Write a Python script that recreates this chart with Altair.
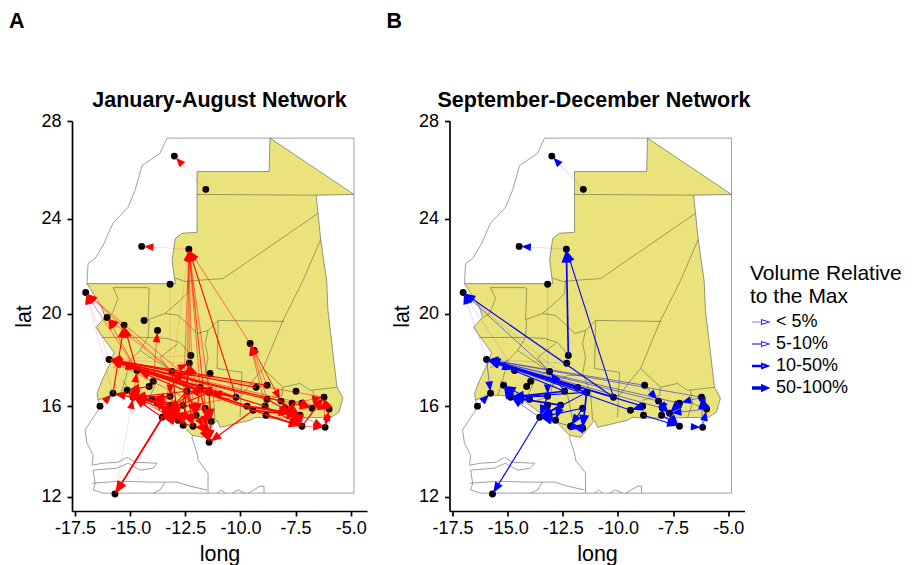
import math
import altair as alt
import pandas as pd

FONT = "Liberation Sans"
def merc(lat):
    return math.log(math.tan(math.pi / 4 + math.radians(lat) / 2)) * 180 / math.pi

node_lon = [-13.00,-11.57,-14.48,-12.34,-13.19,-17.02,-16.05,-15.28,-14.37,-13.76,-15.96,-12.25,-12.32,-14.69,-13.10,-11.38,-9.56,-9.38,-13.96,-14.14,-15.14,-9.29,-8.79,-7.48,-12.42,-11.83,-11.42,-10.20,-15.78,-16.37,-14.87,-14.01,-13.19,-8.79,-8.16,-7.66,-7.21,-6.21,-5.98,-6.16,-7.21,-8.84,-8.88,-9.70,-9.43,-11.33,-11.42,-13.55,-12.83,-12.60,-12.15,-11.60,-15.69,-12.60,-11.60,-13.19,-13.78,-7.98,-7.66,-7.30,-6.75,-13.33,-12.01,-15.19,-8.02]
node_lat = [26.58,25.22,22.85,22.73,21.25,20.90,19.84,19.51,19.71,19.28,18.03,18.20,17.87,17.55,17.51,17.42,18.72,18.42,17.08,16.86,16.69,16.82,16.91,16.65,16.65,16.82,16.60,16.39,16.56,16.00,16.39,16.30,16.43,16.30,16.22,16.13,16.13,16.39,15.87,15.07,15.12,15.60,16.00,16.00,15.82,15.34,14.41,15.51,15.38,15.16,15.12,15.03,12.12,16.04,15.91,16.04,16.17,15.91,15.69,15.60,15.91,15.82,15.60,16.91,15.60]

nodes_a = [i for i in range(64) if i != 63]
nodes_b = [0,1,2,3,4,5,10,11,12,13,14,18,19,63,30,28,29,31,32,24,25,26,27,22,34,36,37,38,39,40,44,42,41,57,58,64,53,54,48,47,50,51,52,55]

edges_a = [
 (1,0,1),(3,2,1),(27,3,3),(16,3,2),(25,3,2),(26,3,2),(24,3,2),(54,3,2),(50,3,2),(45,3,1),(14,3,1),(53,3,2),(12,3,2),(46,3,2),
 (4,32,1),(10,5,1),(13,5,2),(14,5,2),(25,5,2),(28,5,1),(6,5,1),(14,6,2),(13,6,2),(13,7,3),(28,7,3),(18,9,2),
 (27,10,4),(21,10,3),(22,10,3),(33,10,3),(34,10,3),(35,10,2),(36,10,2),(37,10,2),(42,10,3),(43,10,4),(44,10,3),(25,10,3),(26,10,3),(54,10,2),(14,10,2),(12,10,1),(11,10,1),
 (10,13,2),(25,13,2),(24,13,3),(30,13,2),(27,14,2),(24,14,2),(53,12,3),(14,12,2),(54,12,2),
 (34,16,2),(33,16,2),(22,16,2),(42,16,2),(16,34,2),
 (43,58,4),(44,59,4),(41,40,4),(42,40,3),(33,58,3),(34,59,4),(35,60,3),(36,60,3),(57,40,3),(58,40,3),(59,40,2),(44,40,3),(43,59,3),
 (39,37,2),(39,38,2),(38,39,2),(60,37,2),(38,37,2),(40,39,2),(36,38,2),(59,39,2),(35,37,2),(40,37,3),
 (45,46,3),(51,46,3),(54,46,3),(25,46,3),(26,46,2),(44,46,3),(62,46,3),
 (47,52,3),(61,52,4),(52,30,1),(56,28,3),(29,28,2),
 (55,30,4),(61,30,3),(53,30,3),(56,30,4),(32,30,3),(47,30,3),(48,30,2),(54,30,2),(24,30,3),
 (30,20,3),(19,20,3),(56,20,3),(32,31,3),(61,31,3),(53,31,2),
 (54,47,3),(26,61,3),(25,61,3),(24,47,3),(14,47,2),(50,47,3),(53,47,2),(27,61,2),(48,47,3),(49,61,2),
 (53,50,3),(54,51,3),(24,50,3),(12,49,3),(14,48,3),(25,62,3),(26,45,3),(54,45,3),(62,51,2),(32,49,3),(24,62,3),(55,48,3),(51,50,3),
 (27,24,2),(27,26,3),(27,25,2),
]
edges_b = [
 (11,3,4),(27,3,3),(27,5,3),(10,5,1),(14,5,2),(13,5,1),(25,5,1),(12,5,1),(1,0,1),(3,2,1),(4,32,1),
 (27,10,4),(25,10,4),(26,10,4),(22,10,2),(34,10,2),(36,10,2),(37,10,2),(42,10,3),(44,10,3),(57,10,2),(12,10,1),(24,10,3),
 (10,13,3),(24,14,3),(10,28,2),(29,28,2),
 (53,30,4),(24,30,4),(32,30,3),(47,30,2),(31,30,3),(26,30,3),(30,63,4),(31,63,3),
 (53,47,4),(26,47,3),(54,47,3),(48,47,3),(32,47,3),(50,47,2),(53,48,3),(47,52,3),
 (51,50,4),(54,50,3),(26,51,4),(50,51,3),(22,34,2),(42,44,3),
 (41,40,3),(57,40,3),(64,40,3),(57,64,3),(34,58,3),(36,58,4),(37,38,2),(39,38,2),(39,37,2),(40,39,1),(37,36,2),(38,37,2),(38,58,2),
]

mauritania = [(-8.66,27.31),(-4.85,25.01),(-6.57,24.98),(-6.48,24.23),(-6.36,23.14),(-6.09,21.41),(-6.03,20.14),(-5.62,16.83),(-5.35,16.35),(-5.53,15.74),(-5.89,15.51),(-8.79,15.47),(-9.34,15.51),(-9.56,15.38),(-10.92,15.07),(-11.06,15.38),(-11.70,14.63),(-12.19,14.72),(-12.87,15.38),(-13.51,15.69),(-14.42,16.35),(-15.32,16.47),(-15.91,16.47),(-16.46,16.26),(-16.50,16.56),(-16.28,17.12),(-15.91,17.86),(-15.73,18.33),(-16.23,18.98),(-16.55,19.41),(-16.14,19.84),(-16.28,20.27),(-16.96,21.28),(-12.96,21.28),(-13.10,22.25),(-12.96,23.18),(-12.65,23.40),(-11.97,23.44),(-11.97,25.95),(-8.70,25.95)]

admin_lines = [
 [(-11.97,25.01),(-6.57,24.98)],
 [(-6.48,24.23),(-10.79,21.49),(-11.51,21.45),(-12.51,21.37),(-13.01,21.53)],
 [(-6.36,23.14),(-7.16,21.41),(-8.07,19.71),(-8.97,17.64)],
 [(-15.78,21.11),(-15.55,20.65),(-15.82,20.01),(-16.09,19.84)],
 [(-15.78,21.11),(-14.23,21.11),(-14.14,21.07),(-14.19,19.71)],
 [(-12.38,21.41),(-12.42,20.86),(-12.74,20.56),(-13.42,20.01),(-14.14,19.76),(-14.19,18.98)],
 [(-16.28,18.98),(-14.19,18.98),(-13.33,18.94),(-12.74,18.76),(-12.42,18.42),(-12.28,18.20)],
 [(-11.97,19.15),(-12.42,19.58),(-12.83,19.93),(-13.42,20.01)],
 [(-14.19,18.98),(-14.55,18.42),(-15.01,17.98),(-15.78,17.68)],
 [(-14.55,18.42),(-13.19,17.55)],
 [(-12.83,18.72),(-13.65,18.11),(-13.19,17.55),(-12.96,16.91),(-13.10,16.43),(-13.65,16.26)],
 [(-11.01,19.71),(-8.02,19.67)],
 [(-11.01,19.71),(-11.06,17.64)],
 [(-11.01,19.71),(-11.47,19.28),(-11.97,19.15)],
 [(-11.47,19.28),(-11.60,18.72),(-11.47,18.11),(-11.60,17.42),(-11.24,16.60),(-11.15,15.38)],
 [(-11.06,17.64),(-9.93,17.47),(-10.02,15.51)],
 [(-8.97,17.64),(-9.43,17.12),(-9.93,16.47)],
 [(-8.97,17.64),(-8.07,16.82),(-8.11,16.47),(-8.88,16.26)],
 [(-8.07,16.82),(-7.30,16.99),(-6.84,16.69),(-5.62,16.82)],
 [(-6.71,16.69),(-6.62,16.13),(-5.84,15.74)],
 [(-6.62,16.13),(-6.84,15.51)],
 [(-15.01,17.98),(-15.23,17.12),(-15.46,16.47)],
 [(-13.19,17.55),(-13.78,17.12),(-14.10,16.43)],
 [(-12.96,16.91),(-12.28,16.47),(-12.06,15.38)],
 [(-11.60,17.34),(-12.28,17.34),(-12.96,16.91)],
 [(-15.32,17.12),(-14.91,16.47)],
]
outline_lines = [
 [(-16.96,21.28),(-16.91,22.13),(-16.59,22.34),(-16.23,22.89),(-15.78,23.82),(-15.10,24.48),(-14.78,25.18),(-14.46,26.20),(-13.65,26.69),(-13.33,27.31),(-4.85,27.31),(-4.85,12.16),(-16.23,12.16)],
 [(-16.46,16.26),(-16.37,15.96),(-17.05,14.95),(-16.96,14.37),(-16.68,13.84),(-16.73,13.40),(-16.23,13.49),(-15.55,13.53),(-15.14,13.75),(-14.78,13.53),(-13.78,13.49),(-13.96,13.27),(-14.55,13.18),(-15.10,13.49),(-15.60,13.27),(-16.68,13.18),(-16.59,12.60),(-16.68,12.30),(-16.23,12.16)],
 [(-16.73,12.60),(-15.46,12.69),(-14.10,12.65),(-12.87,12.65),(-12.28,12.47),(-11.51,12.30)],
 [(-13.42,12.65),(-13.65,12.30),(-13.96,12.16)],
 [(-12.19,14.72),(-12.19,14.59),(-11.97,13.93),(-11.92,13.62),(-11.47,13.05),(-11.47,12.16)],
 [(-11.06,12.16),(-10.88,12.30),(-10.70,12.16)],
 [(-10.38,12.16),(-10.11,12.30),(-9.79,12.16)],
 [(-9.65,12.16),(-9.11,12.47),(-8.93,12.47),(-8.93,12.16)],
]

x_ticks = [-17.5,-15.0,-12.5,-10.0,-7.5,-5.0]
y_ticks = [12,16,20,24,28]
class_labels = ["< 5%","5-10%","10-50%","50-100%"]
class_paths = [
 "M-.8,-.03L.1,-.03L.1,-.3L1.05,0L.1,.3L.1,.03L-.8,.03ZM.18,-.17L.18,.17L.8,0Z",
 "M-.8,-.06L.1,-.06L.1,-.3L1.05,0L.1,.3L.1,.06L-.8,.06ZM.18,-.17L.18,.17L.8,0Z",
 "M-.8,-.13L.1,-.13L.1,-.35L1.05,0L.1,.35L.1,.13L-.8,.13ZM.25,-.08L.25,.08L.5,0Z",
 "M-.8,-.17L.1,-.17L.1,-.42L1.05,0L.1,.42L.1,.17L-.8,.17Z",
]
style_width = {1:0.45, 2:0.7, 3:1.1, 4:1.7}
style_opacity = {1:0.3, 2:0.7, 3:1.0, 4:1.0}
style_head = {1:90, 2:95, 3:120, 4:160}
HEAD = "M0,-1L0.8,1L-0.8,1Z"

PX_DEG = 22.05
xs = alt.Scale(domain=[-17.64,-4.26], nice=False, zero=False)
ys = alt.Scale(domain=[merc(12)-14.3/PX_DEG, merc(28)], nice=False, zero=False)
lat_expr = "format(round(2*atan(exp(datum.value*PI/180))*180/PI-90),'d')"
lon_expr = "replace(format(datum.value,'.1f'),'\u2212','-')"
ax_style = dict(grid=False, domainColor="black", tickColor="black", domainWidth=1.7, tickWidth=1.7, tickSize=5,
                labelColor="black", titleColor="black", labelFont=FONT, titleFont=FONT, labelFontSize=18, titleFontSize=21.5,
                titleFontWeight="normal", labelOverlap=False)
x_enc = alt.X("x:Q", scale=xs, axis=alt.Axis(values=x_ticks, labelExpr=lon_expr, title="long", titlePadding=6, labelPadding=3, **ax_style))
y_enc = alt.Y("y:Q", scale=ys, axis=alt.Axis(values=[merc(t) for t in y_ticks], labelExpr=lat_expr, title="lat", titlePadding=5, labelPadding=6, **ax_style))

def line_table(lines):
    rows = []
    for g, pts in enumerate(lines):
        for i, (lo, la) in enumerate(pts):
            rows.append({"g": g, "i": i, "x": lo, "y": merc(la)})
    return pd.DataFrame(rows)

def edge_table(edges):
    rows = []
    for a, b, c in edges:
        xa, ya, xb, yb = node_lon[a], merc(node_lat[a]), node_lon[b], merc(node_lat[b])
        dx, dy = xb - xa, yb - ya
        d = math.hypot(dx, dy) or 1
        back = 7.0 / PX_DEG
        hx, hy = xb - dx / d * back, yb - dy / d * back
        rows.append({"x": xa, "y": ya, "x2": hx, "y2": hy, "w": style_width[c], "o": style_opacity[c],
                     "s": style_head[c], "a": math.degrees(math.atan2(dx, dy)) % 360})
    return pd.DataFrame(rows)

def panel(title, letter, color, nodes, edges, title_x):
    poly = pd.DataFrame([{"i": i, "x": lo, "y": merc(la)} for i, (lo, la) in enumerate(mauritania)])
    base = alt.Chart(poly).mark_line(fill="#EAE27A", stroke="#555555", strokeWidth=0.6, interpolate="linear-closed").encode(
        x=x_enc, y=y_enc, order="i:Q")
    outl = alt.Chart(line_table(outline_lines)).mark_line(color="#777777", strokeWidth=0.7).encode(
        x=x_enc, y=y_enc, detail="g:N", order="i:Q")
    adm = alt.Chart(line_table(admin_lines)).mark_line(color="#666644", strokeWidth=0.6).encode(
        x=x_enc, y=y_enc, detail="g:N", order="i:Q")
    pts = pd.DataFrame({"x": [node_lon[i] for i in nodes], "y": [merc(node_lat[i]) for i in nodes]})
    dots = alt.Chart(pts).mark_circle(color="black", size=48, opacity=1).encode(x=x_enc, y=y_enc)
    et = edge_table(edges)
    rules = alt.Chart(et).mark_rule(color=color).encode(
        x=x_enc, y=y_enc, x2="x2:Q", y2="y2:Q",
        strokeWidth=alt.StrokeWidth("w:Q", scale=None), opacity=alt.Opacity("o:Q", scale=None))
    heads = alt.Chart(et.assign(x=et.x2, y=et.y2)).mark_point(filled=True, shape=HEAD, color=color, opacity=1, strokeWidth=0).encode(
        x=x_enc, y=y_enc, size=alt.Size("s:Q", scale=None), angle=alt.Angle("a:Q", scale=None))
    tag = alt.Chart(pd.DataFrame({"t": [letter]})).mark_text(font=FONT, fontSize=21.5, fontWeight="bold", color="black", align="left", baseline="alphabetic").encode(
        x=alt.value(-63), y=alt.value(-93), text="t:N")
    head = alt.Chart(pd.DataFrame({"t": [title]})).mark_text(font=FONT, fontSize=21.5, fontWeight="bold", color="black", align="center", baseline="alphabetic").encode(
        x=alt.value(title_x), y=alt.value(-14), text="t:N")
    return [base, outl, adm, dots, rules, heads, tag, head]

layers_a = panel("January-August Network", "A", "#ff0000", nodes_a, edges_a, 147.5)
layers_b = panel("September-December Network", "B", "#0000ff", nodes_b, edges_b, 144.5)

legend_df = pd.DataFrame({"c": class_labels, "x": [-10.0]*4, "y": [merc(20)]*4})
legend_layer = alt.Chart(legend_df).transform_filter("false").mark_point(filled=True, color="#0000ff").encode(
    x=x_enc, y=y_enc,
    shape=alt.Shape("c:N", scale=alt.Scale(domain=class_labels, range=class_paths),
        legend=alt.Legend(title=["Volume Relative","to the Max"], orient="none", legendX=678, legendY=142,
            titleFont=FONT, titleFontSize=21, titleFontWeight="normal", titleColor="black", titleLimit=300, titleLineHeight=23,
            labelFont=FONT, labelFontSize=18, labelColor="black", symbolSize=400, symbolFillColor="#0000ff", symbolStrokeWidth=0,
            symbolOpacity=1, rowPadding=3, labelOffset=6, padding=0, titlePadding=5)))

A = alt.layer(*layers_a).properties(width=295, height=390)
B = alt.layer(*layers_b, legend_layer).properties(width=295, height=390)
chart = alt.hconcat(A, B, spacing=82.5, bounds="flush").configure_view(stroke=None).properties(padding={"left":1,"top":3,"right":0,"bottom":0})
chart.save("out.html", embed_options={"renderer": "svg", "actions": False})
